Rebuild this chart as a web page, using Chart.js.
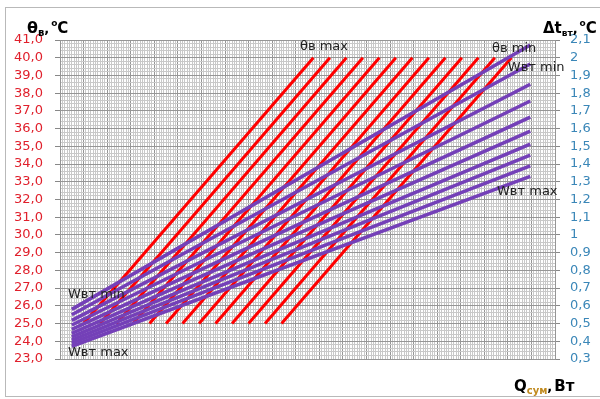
<!DOCTYPE html>
<html>
<head>
<meta charset="utf-8">
<script src="https://cdn.jsdelivr.net/npm/chart.js@4.4.1/dist/chart.umd.min.js"></script>
<style>
html, body { margin: 0; padding: 0; background: #fff; }
</style>
</head>
<body>
<canvas id="chart" width="600" height="399"></canvas>
<script>
'use strict'

// линии θв (красные): от 25 °C до 40 °C, положение по оси Q в делениях сетки
const redStartX = [1.0, 1.7, 2.4, 3.1, 3.8, 4.5, 5.2, 5.9, 6.6, 7.3, 8.0, 8.7, 9.4];
const redEndX = [10.75, 11.45, 12.15, 12.85, 13.55, 14.25, 14.95, 15.65, 16.35, 17.05, 17.75, 18.45, 19.15];
const redStartY = 25;
const redEndY = 40;

// линии Wвт (фиолетовые): значения на левом и правом краю
const purpleStartX = 0.5;
const purpleEndX = 19.95;
const purpleStartY = [25.8, 25.5, 25.18, 24.92, 24.67, 24.45, 24.25, 24.07, 23.9, 23.72];
const purpleEndY = [40.72, 39.65, 38.5, 37.56, 36.65, 35.86, 35.13, 34.5, 33.9, 33.3];

// подписи осей
const leftLabels = ['23,0','24,0','25,0','26,0','27,0','28,0','29,0','30,0','31,0','32,0',
  '33,0','34,0','35,0','36,0','37,0','38,0','39,0','40,0','41,0'];
const rightLabels = ['0,3','0,4','0,5','0,6','0,7','0,8','0,9','1','1,1','1,2','1,3',
  '1,4','1,5','1,6','1,7','1,8','1,9','2','2,1'];

// подписи на поле графика
const notes = [
  ['θв max', 10.18, 40.6],
  ['θв min', 18.33, 40.5],
  ['Wвт min', 19.0, 39.42],
  ['Wвт max', 18.54, 32.42],
  ['Wвт min', 0.34, 26.61],
  ['Wвт max', 0.34, 23.34]
];

const FONT = '"DejaVu Sans", Verdana, sans-serif';
const majorColor = '#969696';
const minorColor = '#c9c9c9';

function isWhole(v, step) {
	return Math.abs(v / step - Math.round(v / step)) < 1e-6;
}

//==================================================================================================
const datasets = [];
// фиолетовые первыми - они рисуются поверх
purpleStartY.forEach((y0, i) => {
	datasets.push({
		data: [{ x: purpleStartX, y: y0 }, { x: purpleEndX, y: purpleEndY[i] }],
		borderColor: '#7440b8',
		borderWidth: 3.5,
		pointRadius: 0,
		yAxisID: 'y'
	});
});
redStartX.forEach((x0, i) => {
	datasets.push({
		data: [{ x: x0, y: redStartY }, { x: redEndX[i], y: redEndY }],
		borderColor: '#ff0000',
		borderWidth: 3,
		pointRadius: 0,
		yAxisID: 'y'
	});
});

function drawParts(c, x, y, parts) {
	parts.forEach((p) => {
		c.font = (p.b ? 'bold ' : '') + p.s + 'px ' + FONT;
		c.fillStyle = p.c || '#000';
		c.fillText(p.t, x, y + (p.dy || 0));
		x += c.measureText(p.t).width;
	});
}

const framePlugin = {
	id: 'frame',
	beforeDraw(chart) {
		const c = chart.ctx;
		c.save();
		c.fillStyle = '#fff';
		c.fillRect(0, 0, chart.width, chart.height);
		c.strokeStyle = '#b9b9b9';
		c.lineWidth = 1;
		c.strokeRect(5.5, 7.5, 620, 389);
		c.restore();
	},
	afterDraw(chart) {
		const c = chart.ctx;
		const xs = chart.scales.x;
		const ys = chart.scales.y;
		c.save();
		c.textBaseline = 'alphabetic';
		// заголовки осей
		drawParts(c, 27, 33, [
			{ t: 'θ', s: 16, b: true },
			{ t: 'в', s: 10, b: true, dy: 3 },
			{ t: ',', s: 13, b: true },
			{ t: ' ', s: 6 },
			{ t: 'o', s: 9, b: true, dy: -7 },
			{ t: 'C', s: 15, b: true }
		]);
		drawParts(c, 543, 33, [
			{ t: 'Δt', s: 15, b: true },
			{ t: 'вт', s: 9, b: true, dy: 3 },
			{ t: ',', s: 13, b: true },
			{ t: ' ', s: 6 },
			{ t: 'o', s: 9, b: true, dy: -7 },
			{ t: 'C', s: 15, b: true }
		]);
		drawParts(c, 514, 391, [
			{ t: 'Q', s: 15, b: true },
			{ t: 'сум', s: 10, b: true, dy: 3, c: '#c08a1e' },
			{ t: ',', s: 13, b: true },
			{ t: ' ', s: 6 },
			{ t: 'Вт', s: 15, b: true }
		]);
		// подписи линий
		c.font = '13px ' + FONT;
		c.fillStyle = '#222';
		c.textBaseline = 'middle';
		notes.forEach((n) => {
			c.fillText(n[0], xs.getPixelForValue(n[1]), ys.getPixelForValue(n[2]));
		});
		c.restore();
	}
};

new Chart(document.getElementById('chart'), {
	type: 'line',
	data: { datasets: datasets },
	options: {
		responsive: false,
		animation: false,
		devicePixelRatio: 1,
		layout: { padding: { left: 0, right: 0, top: 40, bottom: 40 } },
		plugins: { legend: { display: false }, tooltip: { enabled: false } },
		scales: {
			x: {
				type: 'linear',
				min: 0,
				max: 21,
				ticks: { display: false, stepSize: 0.1, autoSkip: false },
				grid: {
					drawTicks: false,
					color: (ctx) => isWhole(ctx.tick.value, 1) ? majorColor : minorColor
				},
				border: { color: majorColor },
				afterFit: (scale) => { scale.height = 0; }
			},
			y: {
				position: 'left',
				min: 23,
				max: 41,
				ticks: {
					stepSize: 0.2,
					autoSkip: false,
					padding: 12,
					color: '#e0202c',
					font: { family: FONT, size: 13 },
					callback: (v) => isWhole(v, 1) ? leftLabels[Math.round(v - 23)] : ''
				},
				grid: {
					tickLength: 5,
					color: (ctx) => isWhole(ctx.tick.value, 1) ? majorColor : minorColor,
					tickColor: (ctx) => isWhole(ctx.tick.value, 1) ? '#888' : 'rgba(0,0,0,0)'
				},
				border: { color: majorColor },
				afterFit: (scale) => { scale.width = 60; }
			},
			y1: {
				position: 'right',
				min: 0.3,
				max: 2.1,
				ticks: {
					stepSize: 0.1,
					autoSkip: false,
					padding: 10,
					color: '#3b87b8',
					font: { family: FONT, size: 13 },
					callback: (v) => rightLabels[Math.round((v - 0.3) * 10)]
				},
				grid: { drawOnChartArea: false, tickLength: 5, tickColor: '#888' },
				border: { color: majorColor },
				afterFit: (scale) => { scale.width = 45; }
			}
		}
	},
	plugins: [framePlugin]
});
</script>
</body>
</html>
